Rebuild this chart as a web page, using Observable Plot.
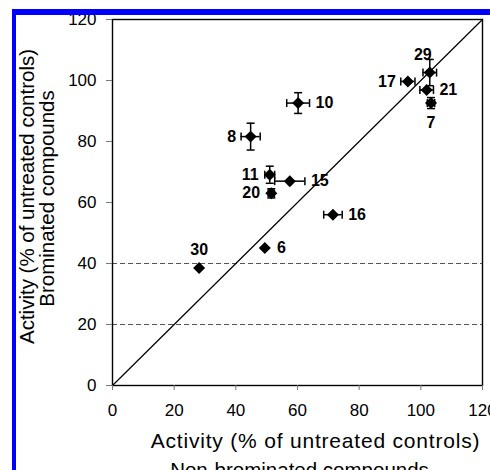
<!DOCTYPE html>
<html>
<head>
<meta charset="utf-8">
<script src="https://cdn.jsdelivr.net/npm/d3@7"></script>
<script src="https://cdn.jsdelivr.net/npm/@observablehq/plot@0.6"></script>
<style>
  html, body { margin: 0; padding: 0; background: #fff; overflow: hidden; }
  #wrap { position: relative; width: 490px; height: 470px; }
  #wrap svg { position: absolute; left: 0; top: 0; }
  #border { position: absolute; left: 12px; top: 9px; width: 478px; height: 461px;
            border-left: 4px solid #0000ff; border-top: 6px solid #0000ff; box-sizing: border-box;
            pointer-events: none; }
</style>
</head>
<body>
<div id="wrap"><div id="border"></div></div>
<script>
// ---- data ----
const compounds        = ["29", "17", "21", "7", "10", "8", "11", "15", "20", "16", "30", "6"];
const nonBrominated    = [102.9, 95.8, 101.9, 103.3, 60.2, 44.8, 51.0, 57.5, 51.5, 71.5, 28.1, 49.4];
const nonBrominatedErr = [2.2, 2.3, 2.2, 1.2, 3.7, 3.1, 1.6, 4.9, 1.0, 3.0, 0, 0];
const brominated       = [102.6, 99.7, 96.9, 92.6, 92.6, 81.6, 69.1, 67.0, 63.0, 56.0, 38.5, 45.1];
const brominatedErr    = [4.3, 0, 0, 1.8, 3.4, 4.4, 2.8, 0, 1.5, 0, 0, 0];
const labelSide        = ["aboveleft", "left", "right", "below", "right", "left", "left", "right", "left", "right", "above", "right"];
const xTicks = [0, 20, 40, 60, 80, 100, 120];
const yTicks = [0, 20, 40, 60, 80, 100, 120];
const guideLevels = [20, 40];
const identityRange = [0, 120];
const xTitle = ["Activity (% of untreated controls)", "Non-brominated compounds"];
const yTitle = ["Activity (% of untreated controls)", "Brominated compounds"];

const points = compounds.map((c, i) => ({
  label: c, x: nonBrominated[i], xerr: nonBrominatedErr[i],
  y: brominated[i], yerr: brominatedErr[i], side: labelSide[i]
}));
const xErrPts = points.filter(d => d.xerr > 0);
const yErrPts = points.filter(d => d.yerr > 0);

const vCap = { draw(ctx, size) { const r = Math.sqrt(size / Math.PI); ctx.moveTo(0, -r); ctx.lineTo(0, r); } };
const hCap = { draw(ctx, size) { const r = Math.sqrt(size / Math.PI); ctx.moveTo(-r, 0); ctx.lineTo(r, 0); } };

const font = "'Liberation Sans', Arial, Helvetica, sans-serif";
const lblStyle = { fontSize: 16, fontWeight: "bold", fontFamily: font, fill: "black" };

const right = points.filter(d => d.side === "right");
const left = points.filter(d => d.side === "left");
const above = points.filter(d => d.side === "above");
const aboveLeft = points.filter(d => d.side === "aboveleft");
const below = points.filter(d => d.side === "below");

const chart = Plot.plot({
  width: 490, height: 470,
  marginLeft: 112, marginRight: 8, marginTop: 19, marginBottom: 85,
  x: { domain: [0, 120], nice: false },
  y: { domain: [0, 120], nice: false },
  style: { fontFamily: font, fontSize: "17px", color: "black", background: "transparent" },
  marks: [
    Plot.ruleY(guideLevels, { stroke: "#555", strokeWidth: 1, strokeDasharray: "5,3" }),
    Plot.line(identityRange, { x: d => d, y: d => d, stroke: "black", strokeWidth: 1.2 }),
    Plot.frame({ stroke: "black", strokeWidth: 1.4 }),
    Plot.axisX({ ticks: xTicks, tickSize: 5, tickPadding: 13, tickFormat: d => d, label: null, stroke: "#777" }),
    Plot.axisY({ ticks: yTicks, tickSize: 6, tickPadding: 10, tickFormat: d => d, label: null, stroke: "#777" }),
    // error bars
    Plot.ruleY(xErrPts, { y: "y", x1: d => d.x - d.xerr, x2: d => d.x + d.xerr, stroke: "black", strokeWidth: 1.5 }),
    Plot.ruleX(yErrPts, { x: "x", y1: d => d.y - d.yerr, y2: d => d.y + d.yerr, stroke: "black", strokeWidth: 1.5 }),
    Plot.dot(xErrPts, { x: d => d.x - d.xerr, y: "y", symbol: vCap, r: 4, fill: "none", stroke: "black", strokeWidth: 1.5 }),
    Plot.dot(xErrPts, { x: d => d.x + d.xerr, y: "y", symbol: vCap, r: 4, fill: "none", stroke: "black", strokeWidth: 1.5 }),
    Plot.dot(yErrPts, { x: "x", y: d => d.y - d.yerr, symbol: hCap, r: 4, fill: "none", stroke: "black", strokeWidth: 1.5 }),
    Plot.dot(yErrPts, { x: "x", y: d => d.y + d.yerr, symbol: hCap, r: 4, fill: "none", stroke: "black", strokeWidth: 1.5 }),
    // markers
    Plot.dot(points, { x: "x", y: "y", symbol: "diamond2", r: 5.4, fill: "black", stroke: "none" }),
    // labels
    Plot.text(right, { x: d => d.x + Math.max(d.xerr, 2), y: "y", text: "label", textAnchor: "start", dx: 6, ...lblStyle }),
    Plot.text(left, { x: d => d.x - Math.max(d.xerr, 2), y: "y", text: "label", textAnchor: "end", dx: -5, ...lblStyle }),
    Plot.text(above, { x: "x", y: "y", text: "label", dy: -18, ...lblStyle }),
    Plot.text(aboveLeft, { x: "x", y: "y", text: "label", dx: -7, dy: -18, ...lblStyle }),
    Plot.text(below, { x: "x", y: "y", text: "label", dy: 20, ...lblStyle }),
    // axis titles
    Plot.text([xTitle[0]], { frameAnchor: "bottom", textAnchor: "middle", lineAnchor: "bottom", dx: 18, dy: 62, fontSize: 21, fontFamily: font, fill: "black" }),
    Plot.text([xTitle[1]], { frameAnchor: "bottom", textAnchor: "middle", lineAnchor: "bottom", dx: 2, dy: 91, fontSize: 20.5, fontFamily: font, fill: "black" }),
    Plot.text([yTitle[0]], { frameAnchor: "left", textAnchor: "middle", lineAnchor: "bottom", rotate: -90, dx: -79, dy: -6, fontSize: 20.5, fontFamily: font, fill: "black" }),
    Plot.text([yTitle[1]], { frameAnchor: "left", textAnchor: "middle", lineAnchor: "bottom", rotate: -90, dx: -59, dy: -4, fontSize: 20.5, fontFamily: font, fill: "black" })
  ]
});
// the reference's first x-title line is set slightly wider
d3.select(chart).selectAll("text")
  .filter(function () { return this.textContent === xTitle[0] && !this.getAttribute("transform").includes("rotate"); })
  .style("letter-spacing", "0.8px");
document.getElementById("wrap").insertBefore(chart, document.getElementById("border"));
</script>
</body>
</html>
